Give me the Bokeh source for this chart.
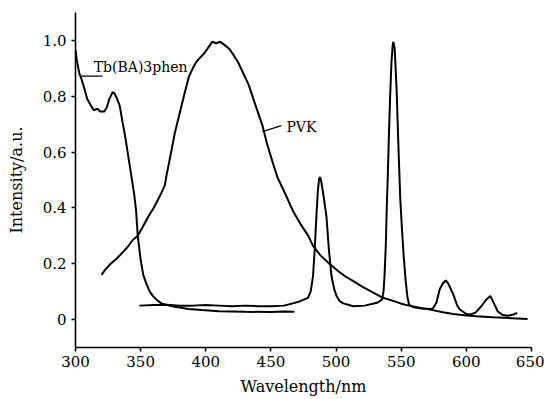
from bokeh.plotting import figure
from bokeh.models import Range1d, FixedTicker
from bokeh.core.properties import value
from bokeh.embed import file_html
from bokeh.resources import INLINE

# --- data ---
exc_x = [300, 301, 303, 304, 306, 309, 312, 314, 317, 319, 322, 324, 326, 328.5, 330, 332, 334,
         336, 338, 341, 343, 345, 346.5, 347.8, 350, 352, 354.3, 357, 359.5, 363, 366, 370, 375,
         380, 386.6, 397, 410, 430, 450, 460, 468]
exc_y = [0.965, 0.93, 0.88, 0.87, 0.84, 0.79, 0.765, 0.75, 0.755, 0.745, 0.745, 0.76, 0.79, 0.815,
         0.81, 0.79, 0.765, 0.71, 0.66, 0.57, 0.51, 0.45, 0.39, 0.30, 0.215, 0.16, 0.13, 0.10,
         0.084, 0.068, 0.058, 0.052, 0.047, 0.043, 0.038, 0.034, 0.03, 0.028, 0.027, 0.029, 0.028]

pvk_x = [320, 323, 327, 332, 336, 340, 344, 347.8, 352, 356, 360, 363.4, 366, 368.5, 370, 373,
         376.3, 380, 384, 387, 390, 393, 396, 399, 402, 405, 408, 411, 414, 418, 421, 425, 429,
         433, 438, 443.5, 447, 451.3, 455, 459, 463, 466.8, 473, 478.7, 482.3, 488, 495.3, 502,
         507, 513.3, 520, 528.9, 536, 544.4, 550, 556, 565.1, 575, 582, 590, 600, 608, 620, 635,
         647]
pvk_y = [0.16, 0.18, 0.2, 0.22, 0.24, 0.26, 0.285, 0.30, 0.335, 0.37, 0.4, 0.43, 0.455, 0.48,
         0.52, 0.59, 0.67, 0.74, 0.815, 0.87, 0.9, 0.925, 0.94, 0.955, 0.975, 0.995, 0.99, 0.995,
         0.985, 0.97, 0.95, 0.92, 0.88, 0.84, 0.77, 0.695, 0.63, 0.564, 0.51, 0.47, 0.43, 0.39,
         0.34, 0.30, 0.264, 0.23, 0.198, 0.172, 0.155, 0.138, 0.118, 0.096, 0.078, 0.066, 0.057,
         0.05, 0.042, 0.033, 0.026, 0.02, 0.015, 0.012, 0.008, 0.005, 0.002]

emi_x = [349, 360, 370, 380, 390, 400, 410, 420, 430, 440, 450, 460, 466.8, 472, 478.4, 480.5,
         482.3, 483.6, 484.9, 486, 487, 487.8, 488.8, 490.5, 492.6, 494.5, 496.5, 498.5, 500.4,
         503, 505.6, 513.3, 522, 531.4, 535.3, 536.4, 537.2, 538.2, 538.9, 539.6, 540.5, 541.5,
         542.5, 543.5, 544, 545, 546.5, 548, 549.3, 550.5, 552, 553.4, 554.8, 556, 559, 565,
         574, 577, 579.5, 582, 584.2, 586, 588, 590, 593, 595, 600, 603, 607, 611, 615, 618.4,
         621, 624, 628, 632, 636, 639]
emi_y = [0.05, 0.052, 0.053, 0.05, 0.05, 0.052, 0.05, 0.048, 0.05, 0.048, 0.048, 0.05, 0.058,
         0.065, 0.078, 0.10, 0.156, 0.25, 0.37, 0.46, 0.505, 0.51, 0.49, 0.44, 0.37, 0.25, 0.156,
         0.11, 0.084, 0.065, 0.058, 0.048, 0.05, 0.06, 0.072, 0.10, 0.156, 0.27, 0.40, 0.5, 0.65,
         0.8, 0.92, 0.985, 0.995, 0.97, 0.82, 0.6, 0.43, 0.33, 0.22, 0.14, 0.08, 0.054, 0.045,
         0.04, 0.038, 0.06, 0.108, 0.13, 0.14, 0.13, 0.11, 0.09, 0.05, 0.036, 0.02, 0.018,
         0.025, 0.045, 0.07, 0.085, 0.06, 0.03, 0.016, 0.014, 0.018, 0.024]

x_ticks = [300, 350, 400, 450, 500, 550, 600, 650]
y_ticks = [0, 0.2, 0.4, 0.6, 0.8, 1.0]
y_tick_labels = ["0", "0.2", "0.4", "0.6", "0.8", "1.0"]

label_exc = "Tb(BA)3phen"
label_pvk = "PVK"
x_title = "Wavelength/nm"
y_title = "Intensity/a.u."

FONT = "DejaVu Serif"

p = figure(width=544, height=399, output_backend="svg", toolbar_location=None,
           x_range=Range1d(300, 650), y_range=Range1d(-0.1, 1.1),
           min_border_left=75, min_border_right=13, min_border_top=12, min_border_bottom=52)
p.outline_line_color = None
p.grid.visible = False
p.background_fill_color = "white"

for xs, ys in [(exc_x, exc_y), (pvk_x, pvk_y), (emi_x, emi_y)]:
    p.line(xs, ys, line_color="black", line_width=2)

# leader lines and labels
p.line([303.9, 320.7], [0.872, 0.872], line_color="black", line_width=1.3)
p.line([443.5, 458], [0.673, 0.695], line_color="black", line_width=1.3)
p.text(x=[314], y=[0.905], text=[label_exc], text_font=value(FONT), text_font_size="14px",
       text_baseline="middle", text_align="left", text_color="black")
p.text(x=[461.9], y=[0.69], text=[label_pvk], text_font=value(FONT), text_font_size="14px",
       text_baseline="middle", text_align="left", text_color="black")

p.xaxis.ticker = FixedTicker(ticks=x_ticks)
p.yaxis.ticker = FixedTicker(ticks=y_ticks)
p.yaxis.major_label_overrides = {t: l for t, l in zip(y_ticks, y_tick_labels)}

for ax in [p.xaxis[0], p.yaxis[0]]:
    ax.axis_line_width = 1.6
    ax.axis_line_color = "black"
    ax.major_tick_line_width = 1.6
    ax.major_tick_line_color = "black"
    ax.major_tick_out = 4
    ax.major_tick_in = 0
    ax.minor_tick_line_color = None
    ax.major_label_text_font = FONT
    ax.major_label_text_font_size = "15px"
    ax.major_label_text_color = "black"
    ax.axis_label_text_font = FONT
    ax.axis_label_text_font_size = "16px"
    ax.axis_label_text_font_style = "normal"
    ax.axis_label_text_color = "black"

p.xaxis.axis_label = x_title
p.yaxis.axis_label = y_title
p.xaxis.major_label_standoff = 4
p.xaxis.axis_label_standoff = 7
p.yaxis.major_label_standoff = 5
p.yaxis.axis_label_standoff = 14

open("out.html", "w").write(file_html(p, INLINE))
